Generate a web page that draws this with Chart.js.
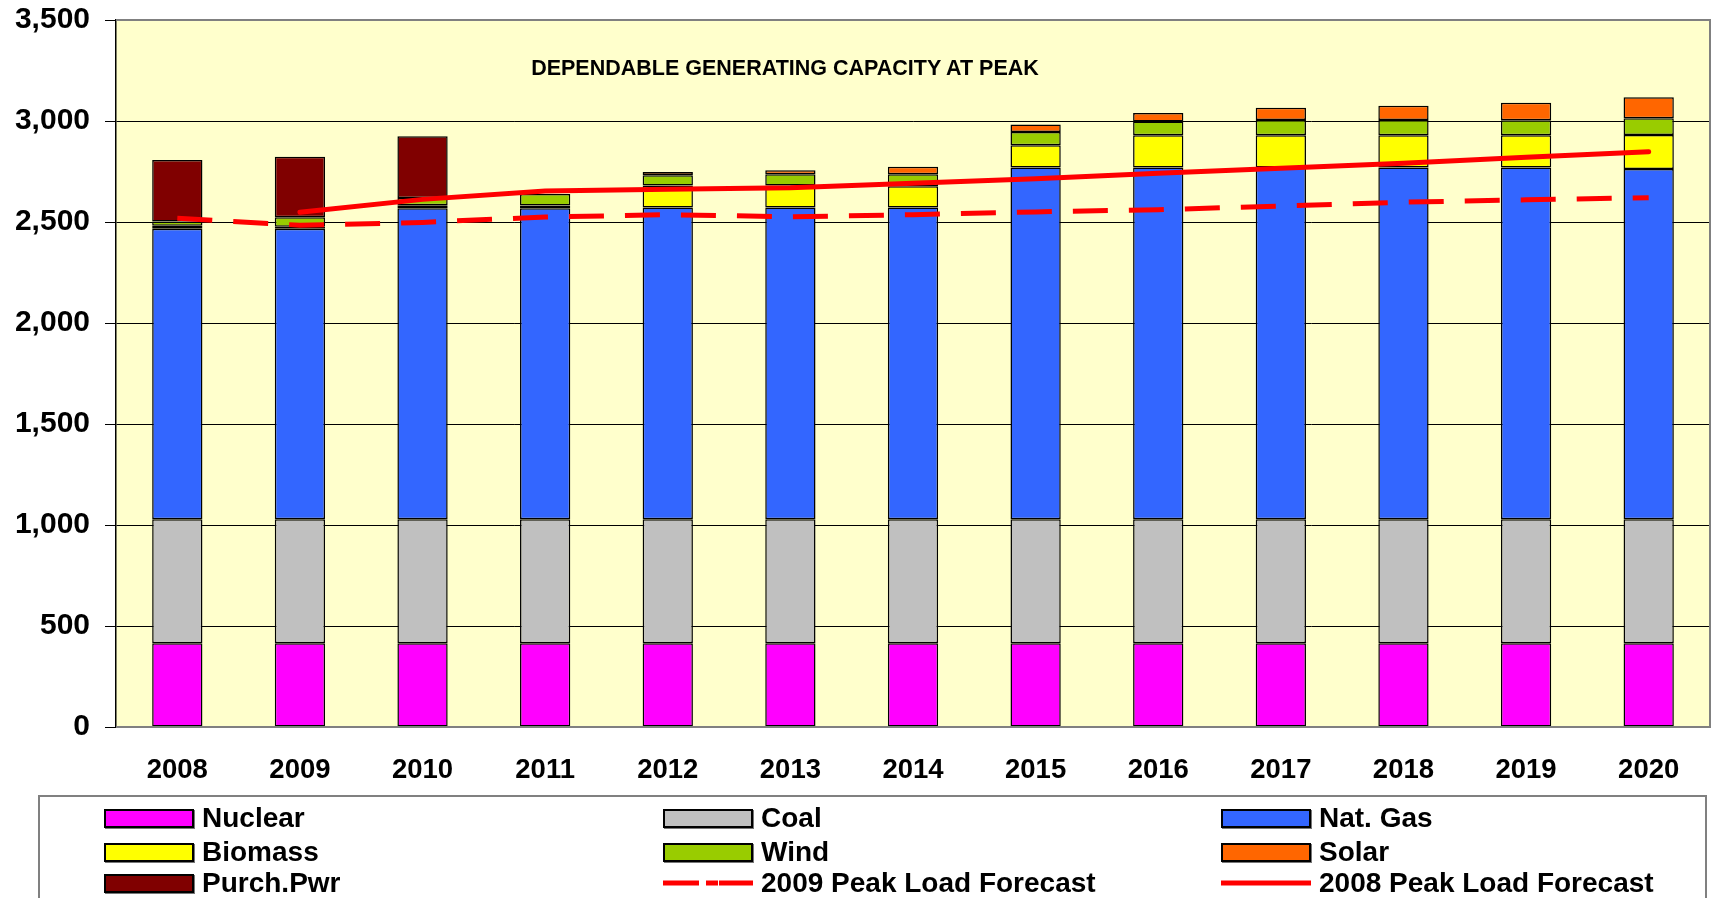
<!DOCTYPE html>
<html>
<head>
<meta charset="utf-8">
<script src="https://cdn.jsdelivr.net/npm/chart.js@4.4.1/dist/chart.umd.min.js"></script>
<style>
  html, body { margin: 0; padding: 0; background: #fff; overflow: hidden; }
  #wrap { position: relative; width: 1717px; height: 898px; }
  #title { position: absolute; left: 0; width: 1570px; top: 56px; text-align: center;
    font: bold 21.5px "Liberation Sans", Arial, sans-serif; color: #000; }
  #legend { position: absolute; left: 38px; top: 795px; width: 1669px; height: 200px;
    border: 2px solid #808080; box-sizing: border-box; }
  .li { position: absolute; height: 18px; display: flex; align-items: center; }
  .sw { width: 86px; height: 15px; border: 2px solid #000; box-shadow: 1px 1px 0 #777; }
  .lt { font: bold 28px "Liberation Sans", Arial, sans-serif; color: #000; margin-left: 8px; line-height: 18px; white-space: nowrap; }
</style>
</head>
<body>
<div id="wrap">
  <canvas id="c" width="1717" height="898"></canvas>
  <div id="title">DEPENDABLE GENERATING CAPACITY AT PEAK</div>
  <div id="legend"></div>
</div>
<script>
const years = ['2008','2009','2010','2011','2012','2013','2014','2015','2016','2017','2018','2019','2020'];
const nuclear = [415,415,415,415,415,415,415,415,415,415,415,415,415];
const coal    = [613,613,613,613,613,613,613,613,613,613,613,613,613];
const natGas  = [1439,1439,1540,1540,1544,1544,1544,1742,1742,1742,1742,1742,1734];
const biomass = [15,10,15,14,109,109,105,110,160,160,160,160,169];
const wind    = [20,46,36,56,51,56,60,66,68,75,75,74,82];
const solar   = [0,0,0,0,16,19,36,37,42,60,70,86,104];
const purchPwr = [305,300,306,0,0,0,0,0,0,0,0,0,0];
const forecast2009 = [2518,2484,2498,2525,2536,2526,2536,2550,2561,2579,2598,2610,2620];
const forecast2008 = [null,2548,2612,2653,2662,2670,2692,2714,2741,2766,2791,2820,2848];
const yTicks = [0,500,1000,1500,2000,2500,3000,3500];

const FONT = '"Liberation Sans", Arial, sans-serif';

function bar(label, data, color) {
  return { type: 'bar', label, data, backgroundColor: color, borderColor: '#000', borderWidth: 1.5,
    borderSkipped: false, stack: 'gen', order: 2, categoryPercentage: 1.0, barPercentage: 0.41 };
}

const bgPlugin = {
  id: 'bgPlugin',
  beforeDraw(chart) {
    const { ctx, chartArea: a } = chart;
    ctx.save();
    ctx.fillStyle = '#FFFFCC';
    ctx.fillRect(a.left, a.top, a.right - a.left, a.bottom - a.top);
    ctx.restore();
  },
  afterDatasetsDraw(chart) {
    const { ctx, chartArea: a } = chart;
    ctx.save();
    ctx.strokeStyle = '#808080';
    ctx.lineWidth = 2;
    ctx.beginPath();
    ctx.moveTo(a.left, a.top); ctx.lineTo(a.right, a.top); ctx.lineTo(a.right, a.bottom); ctx.lineTo(a.left, a.bottom);
    ctx.stroke();
    ctx.restore();
  }
};

new Chart(document.getElementById('c'), {
  data: {
    labels: years,
    datasets: [
      bar('Nuclear', nuclear, '#FF00FF'),
      bar('Coal', coal, '#C0C0C0'),
      bar('Nat. Gas', natGas, '#3366FF'),
      bar('Biomass', biomass, '#FFFF00'),
      bar('Wind', wind, '#99CC00'),
      bar('Solar', solar, '#FF6600'),
      bar('Purch.Pwr', purchPwr, '#800000'),
      { type: 'line', label: '2009 Peak Load Forecast', data: forecast2009, borderColor: '#FF0000',
        borderWidth: 5, borderDash: [35, 21], pointRadius: 0, tension: 0, stack: 'f2009', order: 0, fill: false },
      { type: 'line', label: '2008 Peak Load Forecast', data: forecast2008, borderColor: '#FF0000',
        borderWidth: 5, pointRadius: 0, tension: 0, stack: 'f2008', order: 0, fill: false, borderCapStyle: 'round' }
    ]
  },
  options: {
    responsive: false,
    animation: false,
    devicePixelRatio: 1,
    layout: { padding: { top: 20, right: 7, bottom: 111, left: 0 } },
    plugins: { legend: { display: false }, tooltip: { enabled: false }, title: { display: false } },
    scales: {
      x: {
        stacked: true,
        grid: { display: false, drawTicks: false },
        border: { display: false },
        ticks: { color: '#000', font: { family: FONT, size: 27.5, weight: 'bold' }, padding: 27, maxRotation: 0 },
        afterFit(s) { s.height = 60; }
      },
      y: {
        stacked: true,
        min: 0, max: 3500,
        afterBuildTicks(s) { s.ticks = yTicks.map(v => ({ value: v })); },
        grid: { color: '#000', lineWidth: 1, tickLength: 11, drawTicks: true },
        border: { display: true, color: '#000', width: 1.5 },
        ticks: { color: '#000', font: { family: FONT, size: 30, weight: 'bold' }, padding: 15,
          callback: v => v.toLocaleString('en-US') },
        afterFit(s) { s.width = 116; s.paddingTop = 0; s.paddingBottom = 0; }
      }
    }
  },
  plugins: [bgPlugin]
});

// HTML legend in three columns
const legendItems = [
  { t: 'Nuclear', c: '#FF00FF' }, { t: 'Coal', c: '#C0C0C0' }, { t: 'Nat. Gas', c: '#3366FF' },
  { t: 'Biomass', c: '#FFFF00' }, { t: 'Wind', c: '#99CC00' }, { t: 'Solar', c: '#FF6600' },
  { t: 'Purch.Pwr', c: '#800000' }, { t: '2009 Peak Load Forecast', line: 'dash' }, { t: '2008 Peak Load Forecast', line: 'solid' }
];
const colX = [104, 663, 1221];
const rowY = [818, 852, 883];
const leg = document.getElementById('legend');
legendItems.forEach((it, i) => {
  const d = document.createElement('div');
  d.className = 'li';
  d.style.left = (colX[i % 3] - 40) + 'px';
  d.style.top = (rowY[Math.floor(i / 3)] - 9 - 797) + 'px';
  let sw;
  if (it.line) {
    sw = document.createElementNS('http://www.w3.org/2000/svg', 'svg');
    sw.setAttribute('width', '90'); sw.setAttribute('height', '18');
    const ln = document.createElementNS('http://www.w3.org/2000/svg', 'line');
    ln.setAttribute('x1', '0'); ln.setAttribute('x2', '90'); ln.setAttribute('y1', '9'); ln.setAttribute('y2', '9');
    ln.setAttribute('stroke', '#FF0000'); ln.setAttribute('stroke-width', '5');
    if (it.line === 'dash') ln.setAttribute('stroke-dasharray', '36 7 12 1');
    else ln.setAttribute('stroke-linecap', 'round');
    sw.appendChild(ln);
  } else {
    sw = document.createElement('div');
    sw.className = 'sw';
    sw.style.background = it.c;
  }
  const t = document.createElement('span');
  t.className = 'lt';
  t.textContent = it.t;
  d.appendChild(sw); d.appendChild(t);
  leg.appendChild(d);
});
</script>
</body>
</html>
